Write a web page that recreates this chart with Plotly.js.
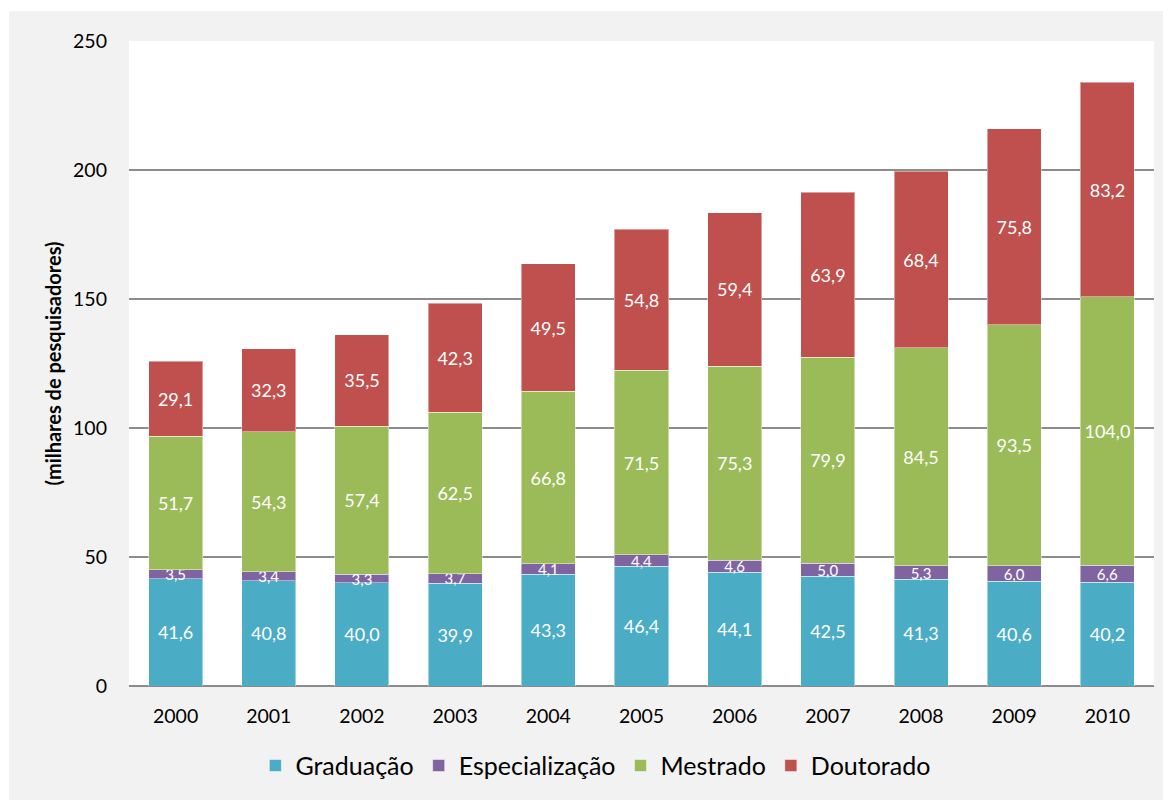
<!DOCTYPE html>
<html>
<head>
<meta charset="utf-8">
<script src="https://cdn.plot.ly/plotly-3.0.1.min.js"></script>
<style>
  html, body { margin: 0; padding: 0; background: #ffffff; }
  #chart { position: absolute; left: 9px; top: 11px; width: 1154px; height: 789px; }
</style>
</head>
<body>
<div id="chart"></div>
<script>
const years = ['2000','2001','2002','2003','2004','2005','2006','2007','2008','2009','2010'];
const graduacao = [41.6, 40.8, 40.0, 39.9, 43.3, 46.4, 44.1, 42.5, 41.3, 40.6, 40.2];
const especializacao = [3.5, 3.4, 3.3, 3.7, 4.1, 4.4, 4.6, 5.0, 5.3, 6.0, 6.6];
const mestrado = [51.7, 54.3, 57.4, 62.5, 66.8, 71.5, 75.3, 79.9, 84.5, 93.5, 104.0];
const doutorado = [29.1, 32.3, 35.5, 42.3, 49.5, 54.8, 59.4, 63.9, 68.4, 75.8, 83.2];
const seriesNames = ['Graduação', 'Especialização', 'Mestrado', 'Doutorado'];
const colors = ['#4bacc6', '#8064a2', '#9bbb59', '#c0504d'];

const FONT = 'Lato, Carlito, "Open Sans", sans-serif';
const fmt = v => v.toFixed(1).replace('.', ',');

function mk(vals, i, size) {
  return {
    type: 'bar',
    name: seriesNames[i],
    x: years,
    y: vals,
    text: vals.map(fmt),
    textposition: 'inside',
    insidetextanchor: 'middle',
    constraintext: 'none',
    textangle: 0,
    textfont: { family: FONT, size: size, color: '#ffffff' },
    marker: { color: colors[i], line: { color: 'rgba(255,255,255,0.45)', width: 1 } },
    hoverinfo: 'x+y+name'
  };
}

const data = [
  mk(graduacao, 0, 18),
  mk(especializacao, 1, 15),
  mk(mestrado, 2, 18),
  mk(doutorado, 3, 18)
];

const layout = {
  barmode: 'stack',
  bargap: 0.42,
  paper_bgcolor: '#f2f2f2',
  plot_bgcolor: '#ffffff',
  width: 1154,
  height: 789,
  margin: { l: 120, r: 9, t: 30, b: 114 },
  font: { family: FONT, color: '#000000' },
  showlegend: true,
  legend: {
    orientation: 'h',
    x: 0.455, xanchor: 'center',
    y: -0.088, yanchor: 'top',
    font: { family: FONT, size: 25, color: '#000000' },
    traceorder: 'normal',
    itemwidth: 30,
    bgcolor: 'rgba(0,0,0,0)'
  },
  xaxis: {
    type: 'category',
    showgrid: false,
    showline: false,
    ticks: '',
    tickfont: { family: FONT, size: 19.5, color: '#000000' },
    ticklabelstandoff: 16,
    fixedrange: true
  },
  yaxis: {
    range: [0, 250],
    tickvals: [0, 50, 100, 150, 200, 250],
    showgrid: true,
    gridcolor: '#8c8c8c',
    gridwidth: 1.5,
    zeroline: true,
    zerolinecolor: '#8c8c8c',
    zerolinewidth: 1.5,
    showline: false,
    ticks: '',
    tickfont: { family: FONT, size: 19.5, color: '#000000' },
    ticklabelstandoff: 21,
    title: { text: '(milhares de pesquisadores)', font: { family: FONT, size: 20, color: '#000000', weight: 'bold' }, standoff: 6 },
    fixedrange: true
  }
};

Plotly.newPlot('chart', data, layout, { displayModeBar: false, staticPlot: true });
</script>
</body>
</html>
